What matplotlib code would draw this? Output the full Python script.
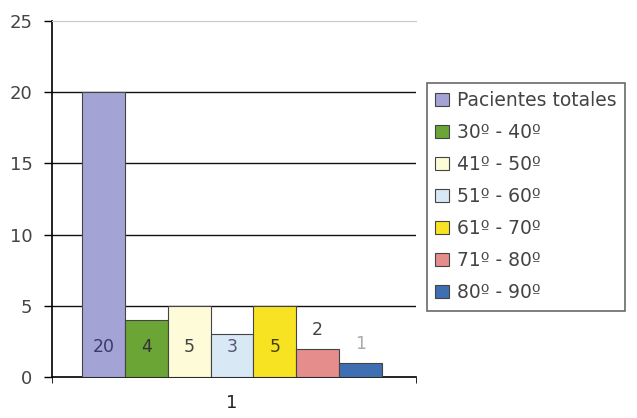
import matplotlib
matplotlib.use("Agg")
import matplotlib.pyplot as plt
import numpy as np

# --- Data ---
category = "1"
series = ["Pacientes totales", "30º - 40º", "41º - 50º", "51º - 60º",
          "61º - 70º", "71º - 80º", "80º - 90º"]
values = [20, 4, 5, 3, 5, 2, 1]
colors = ["#a3a3d6", "#6aa535", "#fdfbd8", "#d9e8f5",
          "#f7e322", "#e58c8c", "#3e6fb3"]
label_colors = ["#3a3a6a", "#333333", "#444444", "#555577",
                "#444400", "#444444", "#aaaaaa"]

plt.rcParams["font.family"] = ["DejaVu Sans"]

fig = plt.figure(figsize=(6.37, 4.18), dpi=100)
ax = fig.add_axes([52 / 637, 1 - 377 / 418, 364 / 637, 356 / 418])

w = 0.1
n = len(values)
offsets = (np.arange(n) - (n - 1) / 2) * w
for i, (v, c, lab) in enumerate(zip(values, colors, series)):
    ax.bar(1 + offsets[i], v, width=w, color=c, edgecolor="#444444",
           linewidth=0.8, label=lab, zorder=3)
    ly = 2.1 if v >= 3 else v + 1.3
    ax.text(1 + offsets[i], ly, str(v), ha="center", va="center",
            fontsize=12.5, color=label_colors[i], zorder=4)

ax.set_ylim(0, 25)
ax.set_xlim(1 - 180 / 428.6, 1 + 184 / 428.6)
ax.set_yticks([0, 5, 10, 15, 20, 25])
for y in [5, 10, 15, 20]:
    ax.axhline(y, color="#111111", linewidth=1.0, zorder=1)

ax.set_xticks([1])
ax.set_xticklabels([category])
ax.tick_params(axis="x", length=0, pad=12, labelsize=13, labelcolor="#222222")
ax.tick_params(axis="y", length=6, width=1, direction="out", pad=8,
               labelsize=13, labelcolor="#444444")
ax.set_xticks(ax.get_xlim(), minor=True)
ax.tick_params(axis="x", which="minor", length=4, direction="out")

ax.spines["right"].set_visible(False)
ax.spines["top"].set_color("#c8c8c8")
ax.spines["left"].set_linewidth(1.2)
ax.spines["bottom"].set_linewidth(1.2)

leg = ax.legend(loc="upper left", bbox_to_anchor=(427 / 637, 1 - 83 / 418),
                bbox_transform=fig.transFigure, borderaxespad=0,
                fontsize=13.5, handlelength=0.7, handleheight=0.7,
                handletextpad=0.45, labelspacing=0.69, borderpad=0.45,
                fancybox=False, frameon=True, labelcolor="#444444")
leg.get_frame().set_edgecolor("#444444")
leg.get_frame().set_linewidth(1.2)

fig.savefig("out.png", dpi=100)
